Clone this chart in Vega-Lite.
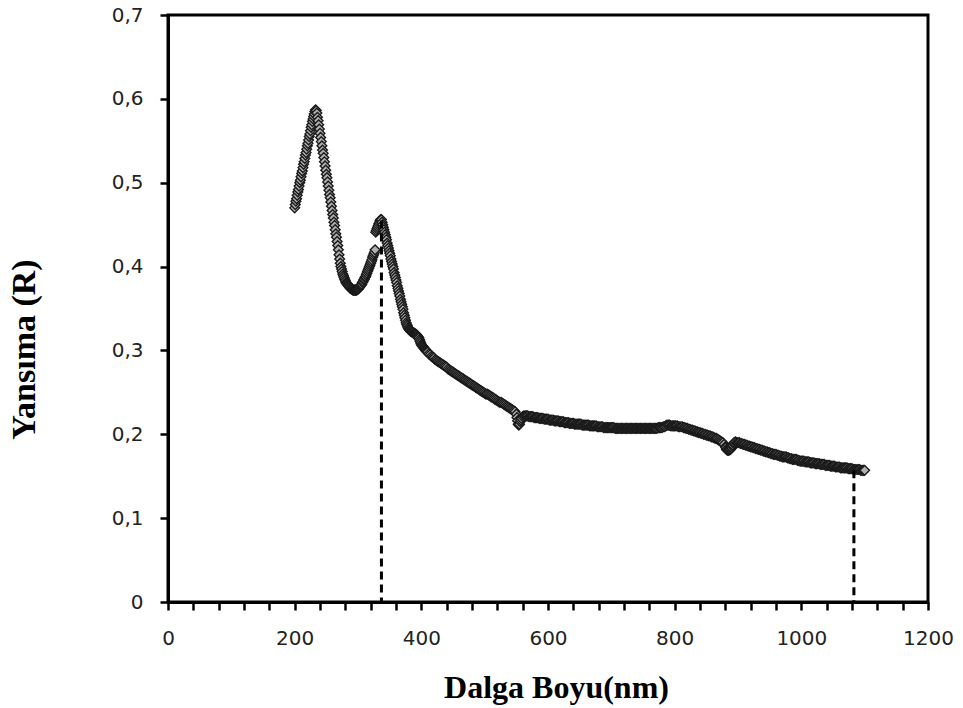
{
  "$schema": "https://vega.github.io/schema/vega-lite/v6.json",
  "autosize": "none",
  "width": 760,
  "height": 587,
  "padding": {"left": 168, "top": 15, "right": 35, "bottom": 106},
  "background": "white",
  "config": {
    "view": {"stroke": "black", "strokeWidth": 3},
    "axis": {"grid": false, "domainColor": "black", "domainWidth": 3, "tickColor": "black", "tickWidth": 2.5, "tickSize": 8, "labelFont": "DejaVu Sans", "labelFontSize": 20, "labelColor": "#222222", "titleFont": "Liberation Serif", "titleFontWeight": "bold", "titleFontSize": 32, "titleColor": "black", "labelOverlap": false, "labelBound": false}
  },
  "datasets": {
    "curve": [
      {"wl":200,"R":0.470},{"wl":201,"R":0.474},{"wl":202,"R":0.478},{"wl":203,"R":0.481},{"wl":204,"R":0.485},{"wl":205,"R":0.489},{"wl":206,"R":0.492},{"wl":207,"R":0.496},{"wl":208,"R":0.500},{"wl":209,"R":0.503},
      {"wl":210,"R":0.507},{"wl":211,"R":0.511},{"wl":212,"R":0.514},{"wl":213,"R":0.518},{"wl":214,"R":0.522},{"wl":215,"R":0.525},{"wl":216,"R":0.529},{"wl":217,"R":0.533},{"wl":218,"R":0.536},{"wl":219,"R":0.540},
      {"wl":220,"R":0.544},{"wl":221,"R":0.547},{"wl":222,"R":0.551},{"wl":223,"R":0.555},{"wl":224,"R":0.558},{"wl":225,"R":0.562},{"wl":226,"R":0.566},{"wl":227,"R":0.569},{"wl":228,"R":0.573},{"wl":229,"R":0.576},
      {"wl":230,"R":0.579},{"wl":231,"R":0.582},{"wl":232,"R":0.585},{"wl":233,"R":0.587},{"wl":234,"R":0.586},{"wl":235,"R":0.583},{"wl":236,"R":0.578},{"wl":237,"R":0.574},{"wl":238,"R":0.569},{"wl":239,"R":0.564},
      {"wl":240,"R":0.559},{"wl":241,"R":0.554},{"wl":242,"R":0.549},{"wl":243,"R":0.544},{"wl":244,"R":0.539},{"wl":245,"R":0.535},{"wl":246,"R":0.530},{"wl":247,"R":0.525},{"wl":248,"R":0.520},{"wl":249,"R":0.515},
      {"wl":250,"R":0.510},{"wl":251,"R":0.506},{"wl":252,"R":0.501},{"wl":253,"R":0.496},{"wl":254,"R":0.491},{"wl":255,"R":0.486},{"wl":256,"R":0.482},{"wl":257,"R":0.477},{"wl":258,"R":0.472},{"wl":259,"R":0.467},
      {"wl":260,"R":0.462},{"wl":261,"R":0.458},{"wl":262,"R":0.453},{"wl":263,"R":0.449},{"wl":264,"R":0.444},{"wl":265,"R":0.439},{"wl":266,"R":0.435},{"wl":267,"R":0.430},{"wl":268,"R":0.425},{"wl":269,"R":0.420},
      {"wl":270,"R":0.414},{"wl":271,"R":0.409},{"wl":272,"R":0.404},{"wl":273,"R":0.400},{"wl":274,"R":0.397},{"wl":275,"R":0.394},{"wl":276,"R":0.391},{"wl":277,"R":0.389},{"wl":278,"R":0.387},{"wl":279,"R":0.385},
      {"wl":280,"R":0.383},{"wl":281,"R":0.381},{"wl":282,"R":0.380},{"wl":283,"R":0.379},{"wl":284,"R":0.378},{"wl":285,"R":0.377},{"wl":286,"R":0.376},{"wl":287,"R":0.375},{"wl":288,"R":0.374},{"wl":289,"R":0.374},
      {"wl":290,"R":0.373},{"wl":291,"R":0.373},{"wl":292,"R":0.372},{"wl":293,"R":0.372},{"wl":294,"R":0.372},{"wl":295,"R":0.372},{"wl":296,"R":0.372},{"wl":297,"R":0.372},{"wl":298,"R":0.372},{"wl":299,"R":0.373},
      {"wl":300,"R":0.373},{"wl":301,"R":0.374},{"wl":302,"R":0.375},{"wl":303,"R":0.376},{"wl":304,"R":0.377},{"wl":305,"R":0.378},{"wl":306,"R":0.379},{"wl":307,"R":0.381},{"wl":308,"R":0.382},{"wl":309,"R":0.384},
      {"wl":310,"R":0.385},{"wl":311,"R":0.387},{"wl":312,"R":0.388},{"wl":313,"R":0.390},{"wl":314,"R":0.392},{"wl":315,"R":0.394},{"wl":316,"R":0.396},{"wl":317,"R":0.398},{"wl":318,"R":0.400},{"wl":319,"R":0.402},
      {"wl":320,"R":0.404},{"wl":321,"R":0.406},{"wl":322,"R":0.408},{"wl":323,"R":0.411},{"wl":324,"R":0.413},{"wl":325,"R":0.415},{"wl":326,"R":0.417},{"wl":327,"R":0.420},{"wl":328,"R":0.441},{"wl":329,"R":0.443},
      {"wl":330,"R":0.445},{"wl":331,"R":0.447},{"wl":332,"R":0.449},{"wl":333,"R":0.451},{"wl":334,"R":0.453},{"wl":335,"R":0.455},{"wl":336,"R":0.456},{"wl":337,"R":0.456},{"wl":338,"R":0.453},{"wl":339,"R":0.450},
      {"wl":340,"R":0.447},{"wl":341,"R":0.444},{"wl":342,"R":0.441},{"wl":343,"R":0.438},{"wl":344,"R":0.435},{"wl":345,"R":0.432},{"wl":346,"R":0.428},{"wl":347,"R":0.425},{"wl":348,"R":0.422},{"wl":349,"R":0.419},
      {"wl":350,"R":0.416},{"wl":351,"R":0.413},{"wl":352,"R":0.409},{"wl":353,"R":0.406},{"wl":354,"R":0.403},{"wl":355,"R":0.400},{"wl":356,"R":0.397},{"wl":357,"R":0.393},{"wl":358,"R":0.390},{"wl":359,"R":0.387},
      {"wl":360,"R":0.384},{"wl":361,"R":0.381},{"wl":362,"R":0.377},{"wl":363,"R":0.374},{"wl":364,"R":0.371},{"wl":365,"R":0.368},{"wl":366,"R":0.365},{"wl":367,"R":0.361},{"wl":368,"R":0.358},{"wl":369,"R":0.355},
      {"wl":370,"R":0.352},{"wl":371,"R":0.349},{"wl":372,"R":0.345},{"wl":373,"R":0.342},{"wl":374,"R":0.339},{"wl":375,"R":0.336},{"wl":376,"R":0.333},{"wl":377,"R":0.331},{"wl":378,"R":0.329},{"wl":379,"R":0.327},
      {"wl":380,"R":0.326},{"wl":381,"R":0.325},{"wl":382,"R":0.324},{"wl":383,"R":0.323},{"wl":384,"R":0.323},{"wl":385,"R":0.322},{"wl":386,"R":0.322},{"wl":387,"R":0.321},{"wl":388,"R":0.321},{"wl":389,"R":0.320},
      {"wl":390,"R":0.320},{"wl":391,"R":0.319},{"wl":392,"R":0.319},{"wl":393,"R":0.318},{"wl":394,"R":0.317},{"wl":395,"R":0.316},{"wl":396,"R":0.315},{"wl":397,"R":0.313},{"wl":398,"R":0.311},{"wl":399,"R":0.309},
      {"wl":400,"R":0.307},{"wl":401,"R":0.306},{"wl":402,"R":0.305},{"wl":403,"R":0.304},{"wl":404,"R":0.303},{"wl":405,"R":0.302},{"wl":406,"R":0.301},{"wl":407,"R":0.300},{"wl":408,"R":0.299},{"wl":409,"R":0.299},
      {"wl":410,"R":0.298},{"wl":412,"R":0.296},{"wl":414,"R":0.295},{"wl":416,"R":0.293},{"wl":418,"R":0.292},{"wl":420,"R":0.291},{"wl":422,"R":0.289},{"wl":424,"R":0.288},{"wl":426,"R":0.287},{"wl":428,"R":0.286},
      {"wl":430,"R":0.285},{"wl":432,"R":0.284},{"wl":434,"R":0.283},{"wl":436,"R":0.282},{"wl":438,"R":0.281},{"wl":440,"R":0.280},{"wl":442,"R":0.278},{"wl":444,"R":0.277},{"wl":446,"R":0.276},{"wl":448,"R":0.275},
      {"wl":450,"R":0.274},{"wl":452,"R":0.273},{"wl":454,"R":0.272},{"wl":456,"R":0.271},{"wl":458,"R":0.270},{"wl":460,"R":0.269},{"wl":462,"R":0.268},{"wl":464,"R":0.267},{"wl":466,"R":0.266},{"wl":468,"R":0.265},
      {"wl":470,"R":0.264},{"wl":472,"R":0.263},{"wl":474,"R":0.262},{"wl":476,"R":0.261},{"wl":478,"R":0.260},{"wl":480,"R":0.259},{"wl":482,"R":0.258},{"wl":484,"R":0.257},{"wl":486,"R":0.256},{"wl":488,"R":0.255},
      {"wl":490,"R":0.254},{"wl":492,"R":0.253},{"wl":494,"R":0.252},{"wl":496,"R":0.251},{"wl":498,"R":0.250},{"wl":500,"R":0.249},{"wl":502,"R":0.248},{"wl":504,"R":0.248},{"wl":506,"R":0.247},{"wl":508,"R":0.246},
      {"wl":510,"R":0.245},{"wl":512,"R":0.244},{"wl":514,"R":0.243},{"wl":516,"R":0.242},{"wl":518,"R":0.241},{"wl":520,"R":0.240},{"wl":522,"R":0.239},{"wl":524,"R":0.238},{"wl":526,"R":0.238},{"wl":528,"R":0.237},
      {"wl":530,"R":0.236},{"wl":532,"R":0.235},{"wl":534,"R":0.234},{"wl":536,"R":0.233},{"wl":538,"R":0.232},{"wl":540,"R":0.231},{"wl":542,"R":0.230},{"wl":544,"R":0.229},{"wl":546,"R":0.228},{"wl":548,"R":0.227},
      {"wl":550,"R":0.224},{"wl":551,"R":0.220},{"wl":552,"R":0.216},{"wl":553,"R":0.212},{"wl":554,"R":0.211},{"wl":555,"R":0.212},{"wl":556,"R":0.215},{"wl":557,"R":0.217},{"wl":558,"R":0.219},{"wl":560,"R":0.221},
      {"wl":562,"R":0.222},{"wl":564,"R":0.222},{"wl":566,"R":0.222},{"wl":568,"R":0.222},{"wl":570,"R":0.221},{"wl":572,"R":0.221},{"wl":574,"R":0.221},{"wl":576,"R":0.221},{"wl":578,"R":0.220},{"wl":580,"R":0.220},
      {"wl":582,"R":0.220},{"wl":584,"R":0.220},{"wl":586,"R":0.219},{"wl":588,"R":0.219},{"wl":590,"R":0.219},{"wl":592,"R":0.219},{"wl":594,"R":0.218},{"wl":596,"R":0.218},{"wl":598,"R":0.218},{"wl":600,"R":0.218},
      {"wl":602,"R":0.217},{"wl":604,"R":0.217},{"wl":606,"R":0.217},{"wl":608,"R":0.217},{"wl":610,"R":0.216},{"wl":612,"R":0.216},{"wl":614,"R":0.216},{"wl":616,"R":0.216},{"wl":618,"R":0.215},{"wl":620,"R":0.215},
      {"wl":622,"R":0.215},{"wl":624,"R":0.215},{"wl":626,"R":0.214},{"wl":628,"R":0.214},{"wl":630,"R":0.214},{"wl":632,"R":0.214},{"wl":634,"R":0.213},{"wl":636,"R":0.213},{"wl":638,"R":0.213},{"wl":640,"R":0.213},
      {"wl":642,"R":0.212},{"wl":644,"R":0.212},{"wl":646,"R":0.212},{"wl":648,"R":0.212},{"wl":650,"R":0.212},{"wl":652,"R":0.212},{"wl":654,"R":0.211},{"wl":656,"R":0.211},{"wl":658,"R":0.211},{"wl":660,"R":0.211},
      {"wl":662,"R":0.211},{"wl":664,"R":0.211},{"wl":666,"R":0.210},{"wl":668,"R":0.210},{"wl":670,"R":0.210},{"wl":672,"R":0.210},{"wl":674,"R":0.210},{"wl":676,"R":0.210},{"wl":678,"R":0.209},{"wl":680,"R":0.209},
      {"wl":682,"R":0.209},{"wl":684,"R":0.209},{"wl":686,"R":0.209},{"wl":688,"R":0.208},{"wl":690,"R":0.208},{"wl":692,"R":0.208},{"wl":694,"R":0.208},{"wl":696,"R":0.208},{"wl":698,"R":0.208},{"wl":700,"R":0.208},
      {"wl":702,"R":0.208},{"wl":704,"R":0.208},{"wl":706,"R":0.207},{"wl":708,"R":0.207},{"wl":710,"R":0.207},{"wl":712,"R":0.207},{"wl":714,"R":0.207},{"wl":716,"R":0.207},{"wl":718,"R":0.207},{"wl":720,"R":0.207},
      {"wl":722,"R":0.207},{"wl":724,"R":0.207},{"wl":726,"R":0.207},{"wl":728,"R":0.207},{"wl":730,"R":0.207},{"wl":732,"R":0.207},{"wl":734,"R":0.207},{"wl":736,"R":0.207},{"wl":738,"R":0.207},{"wl":740,"R":0.207},
      {"wl":742,"R":0.207},{"wl":744,"R":0.207},{"wl":746,"R":0.207},{"wl":748,"R":0.207},{"wl":750,"R":0.207},{"wl":752,"R":0.207},{"wl":754,"R":0.207},{"wl":756,"R":0.207},{"wl":758,"R":0.207},{"wl":760,"R":0.207},
      {"wl":762,"R":0.207},{"wl":764,"R":0.207},{"wl":766,"R":0.207},{"wl":768,"R":0.207},{"wl":770,"R":0.207},{"wl":772,"R":0.207},{"wl":774,"R":0.208},{"wl":776,"R":0.208},{"wl":778,"R":0.208},{"wl":780,"R":0.208},
      {"wl":782,"R":0.209},{"wl":784,"R":0.209},{"wl":786,"R":0.210},{"wl":788,"R":0.211},{"wl":790,"R":0.211},{"wl":792,"R":0.211},{"wl":794,"R":0.210},{"wl":796,"R":0.210},{"wl":798,"R":0.210},{"wl":800,"R":0.210},
      {"wl":802,"R":0.210},{"wl":804,"R":0.210},{"wl":806,"R":0.209},{"wl":808,"R":0.209},{"wl":810,"R":0.209},{"wl":812,"R":0.209},{"wl":814,"R":0.208},{"wl":816,"R":0.208},{"wl":818,"R":0.207},{"wl":820,"R":0.207},
      {"wl":822,"R":0.206},{"wl":824,"R":0.206},{"wl":826,"R":0.205},{"wl":828,"R":0.205},{"wl":830,"R":0.204},{"wl":832,"R":0.204},{"wl":834,"R":0.203},{"wl":836,"R":0.203},{"wl":838,"R":0.202},{"wl":840,"R":0.202},
      {"wl":842,"R":0.201},{"wl":844,"R":0.201},{"wl":846,"R":0.200},{"wl":848,"R":0.200},{"wl":850,"R":0.199},{"wl":852,"R":0.199},{"wl":854,"R":0.198},{"wl":856,"R":0.198},{"wl":858,"R":0.197},{"wl":860,"R":0.197},
      {"wl":862,"R":0.196},{"wl":864,"R":0.195},{"wl":866,"R":0.195},{"wl":868,"R":0.194},{"wl":870,"R":0.193},{"wl":872,"R":0.192},{"wl":874,"R":0.191},{"wl":876,"R":0.190},{"wl":878,"R":0.188},{"wl":880,"R":0.185},
      {"wl":881,"R":0.184},{"wl":882,"R":0.182},{"wl":883,"R":0.181},{"wl":884,"R":0.181},{"wl":885,"R":0.181},{"wl":886,"R":0.181},{"wl":887,"R":0.182},{"wl":888,"R":0.182},{"wl":889,"R":0.183},{"wl":890,"R":0.184},
      {"wl":891,"R":0.186},{"wl":892,"R":0.187},{"wl":893,"R":0.189},{"wl":894,"R":0.190},{"wl":896,"R":0.191},{"wl":898,"R":0.190},{"wl":900,"R":0.190},{"wl":902,"R":0.190},{"wl":904,"R":0.189},{"wl":906,"R":0.189},
      {"wl":908,"R":0.188},{"wl":910,"R":0.188},{"wl":912,"R":0.187},{"wl":914,"R":0.187},{"wl":916,"R":0.186},{"wl":918,"R":0.186},{"wl":920,"R":0.185},{"wl":922,"R":0.185},{"wl":924,"R":0.184},{"wl":926,"R":0.184},
      {"wl":928,"R":0.183},{"wl":930,"R":0.183},{"wl":932,"R":0.182},{"wl":934,"R":0.182},{"wl":936,"R":0.181},{"wl":938,"R":0.181},{"wl":940,"R":0.180},{"wl":942,"R":0.180},{"wl":944,"R":0.179},{"wl":946,"R":0.179},
      {"wl":948,"R":0.178},{"wl":950,"R":0.178},{"wl":952,"R":0.177},{"wl":954,"R":0.177},{"wl":956,"R":0.176},{"wl":958,"R":0.176},{"wl":960,"R":0.176},{"wl":962,"R":0.175},{"wl":964,"R":0.175},{"wl":966,"R":0.174},
      {"wl":968,"R":0.174},{"wl":970,"R":0.173},{"wl":972,"R":0.173},{"wl":974,"R":0.173},{"wl":976,"R":0.173},{"wl":978,"R":0.172},{"wl":980,"R":0.172},{"wl":982,"R":0.171},{"wl":984,"R":0.171},{"wl":986,"R":0.170},
      {"wl":988,"R":0.170},{"wl":990,"R":0.170},{"wl":992,"R":0.170},{"wl":994,"R":0.169},{"wl":996,"R":0.169},{"wl":998,"R":0.168},{"wl":1000,"R":0.168},{"wl":1002,"R":0.168},{"wl":1004,"R":0.168},{"wl":1006,"R":0.167},
      {"wl":1008,"R":0.167},{"wl":1010,"R":0.167},{"wl":1012,"R":0.167},{"wl":1014,"R":0.166},{"wl":1016,"R":0.166},{"wl":1018,"R":0.166},{"wl":1020,"R":0.166},{"wl":1022,"R":0.165},{"wl":1024,"R":0.165},{"wl":1026,"R":0.165},
      {"wl":1028,"R":0.165},{"wl":1030,"R":0.164},{"wl":1032,"R":0.164},{"wl":1034,"R":0.164},{"wl":1036,"R":0.164},{"wl":1038,"R":0.163},{"wl":1040,"R":0.163},{"wl":1042,"R":0.163},{"wl":1044,"R":0.163},{"wl":1046,"R":0.162},
      {"wl":1048,"R":0.162},{"wl":1050,"R":0.162},{"wl":1052,"R":0.162},{"wl":1054,"R":0.161},{"wl":1056,"R":0.161},{"wl":1058,"R":0.161},{"wl":1060,"R":0.161},{"wl":1062,"R":0.160},{"wl":1064,"R":0.160},{"wl":1066,"R":0.160},
      {"wl":1068,"R":0.160},{"wl":1070,"R":0.160},{"wl":1072,"R":0.160},{"wl":1074,"R":0.159},{"wl":1076,"R":0.159},{"wl":1078,"R":0.159},{"wl":1080,"R":0.159},{"wl":1082,"R":0.158},{"wl":1084,"R":0.158},{"wl":1086,"R":0.158},
      {"wl":1088,"R":0.158},{"wl":1090,"R":0.158},{"wl":1092,"R":0.158},{"wl":1094,"R":0.157},{"wl":1096,"R":0.157},{"wl":1098,"R":0.157},{"wl":1100,"R":0.157}
    ],
    "marks": [
      {"wl": 337, "R": 0.455},
      {"wl": 1083, "R": 0.157}
    ]
  },
  "layer": [
    {
      "data": {"name": "curve"},
      "mark": {"type": "point", "shape": "diamond", "filled": true, "fill": "#b0b0b0", "stroke": "#1a1a1a", "strokeWidth": 1.4, "size": 95, "opacity": 1},
      "encoding": {
        "x": {
          "field": "wl", "type": "quantitative",
          "scale": {"domain": [0, 1200], "nice": false, "zero": false},
          "axis": {
            "title": "Dalga Boyu(nm)",
            "titleX": 388,
            "tickCount": 60,
            "values": [0,40,80,120,160,200,240,280,320,360,400,440,480,520,560,600,640,680,720,760,800,840,880,920,960,1000,1040,1080,1120,1160,1200],
            "labelExpr": "indexof([0,200,400,600,800,1000,1200], datum.value) >= 0 ? format(datum.value, 'd') : ''",
            "labelOverlap": false,
            "labelFlush": false,
            "labelPadding": 18,
            "titlePadding": 24
          }
        },
        "y": {
          "field": "R", "type": "quantitative",
          "scale": {"domain": [0, 0.7], "nice": false},
          "axis": {
            "title": "Yansıma (R)",
            "titleFontSize": 34,
            "titleY": 334,
            "tickCount": 20,
            "values": [0, 0.1, 0.2, 0.3, 0.4, 0.5, 0.6, 0.7],
            "labelExpr": "datum.value === 0 ? '0' : replace(format(datum.value, '.1f'), '.', ',')",
            "labelPadding": 17,
            "titlePadding": 70
          }
        }
      }
    },
    {
      "data": {"name": "marks"},
      "mark": {"type": "rule", "color": "black", "strokeWidth": 3, "strokeDash": [8, 5]},
      "encoding": {
        "x": {"field": "wl", "type": "quantitative"},
        "y": {"field": "R", "type": "quantitative"},
        "y2": {"datum": 0}
      }
    }
  ]
}
